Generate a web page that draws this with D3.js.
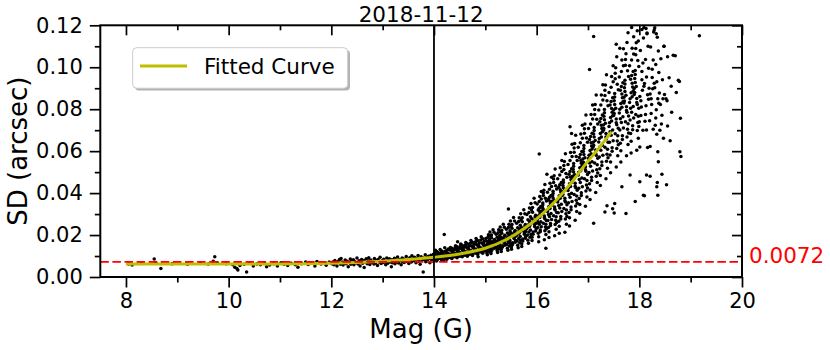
<!DOCTYPE html>
<html><head><meta charset="utf-8">
<script src="https://cdn.jsdelivr.net/npm/d3@7"></script>
<style>body{margin:0;background:#fff}svg{display:block}text{font-family:"DejaVu Sans",sans-serif}</style>
</head><body><svg id="c" width="830" height="350"></svg>
<script>
const title = "2018-11-12";
const xLabel = "Mag (G)";
const yLabel = "SD (arcsec)";
const legendLabel = "Fitted Curve";
const threshold = 0.0072;
const thresholdLabel = "0.0072";
const xMarker = 14;
const xDomain = [7.5, 20];
const yDomain = [0, 0.12];
const xMajorTicks = [8,10,12,14,16,18,20];
const xMinorTicks = [9,11,13,15,17,19];
const yMajorTicks = [0,0.02,0.04,0.06,0.08,0.10,0.12];
const yMinorTicks = [0.01,0.03,0.05,0.07,0.09,0.11];

// fitted curve (mag, sd)
const fittedCurve = [[8,.0062],[10,.0062],[11,.0062],[11.5,.0063],[12,.0065],[12.5,.0069],[13,.0075],[13.5,.0083],[14,.0094],[14.5,.0110],[15,.0137],[15.42,.0180],[15.75,.0230],[16.07,.0292],[16.39,.0368],[16.71,.0460],[16.91,.0525],[17.23,.0620],[17.46,.0692]];

// stars: [mag, sd]
const stars8to12 = [[8.05,.0062],[8.12,.0057],[8.3,.0064],[8.55,.0086],[8.58,.0069],[8.68,.0041],[8.9,.0063],[9.2,.0061],[9.45,.0066],[9.6,.0062],[9.7,.0075],[9.73,.0097],[9.78,.0068],[9.95,.0063],
[10.08,.0058],[10.12,.0047],[10.16,.0041],[10.18,.0033],[10.22,.0055],[10.3,.0061],[10.35,.0024],[10.4,.0066],[10.48,.0052],[10.55,.0062],[10.62,.0058],[10.7,.0064],[10.74,.0049],[10.8,.0057],[10.88,.0063],[10.95,.0052],[11.02,.0068],[11.08,.0061],[11.15,.0055],[11.22,.0066],[11.3,.0058],[11.35,.0047],[11.42,.0063],[11.5,.0071],[11.55,.0059],[11.6,.0066],[11.68,.0052],[11.72,.0074],[11.8,.0062],[11.86,.0068],[11.9,.0056],[11.96,.0072]];

const stars12to14 = [[12.01,.0063],[12.03,.0071],[12.05,.0058],[12.07,.0079],[12.09,.0066],[12.11,.0052],[12.13,.0074],[12.15,.0069],[12.16,.0083],[12.18,.0061],[12.19,.0088],
[12.21,.0072],[12.23,.0057],[12.25,.0066],[12.27,.0081],[12.29,.0063],[12.31,.0075],[12.33,.0049],[12.35,.0069],[12.37,.0086],[12.38,.0061],[12.39,.0077],
[12.41,.0065],[12.43,.0082],[12.44,.0058],[12.46,.0073],[12.48,.0068],[12.5,.0091],[12.52,.0062],[12.54,.0078],[12.56,.0053],[12.57,.0071],[12.59,.0084],
[12.61,.0066],[12.63,.0079],[12.64,.0045],[12.66,.0072],[12.68,.0087],[12.7,.0063],[12.72,.0076],[12.73,.0092],[12.75,.0059],[12.77,.0081],[12.79,.0069],
[12.81,.0074],[12.83,.0062],[12.84,.0088],[12.86,.0067],[12.88,.0079],[12.9,.0055],[12.91,.0083],[12.93,.0071],[12.95,.0094],[12.97,.0064],[12.99,.0077],
[13.01,.0069],[13.02,.0085],[13.04,.0073],[13.06,.0058],[13.08,.0091],[13.1,.0066],[13.11,.0079],[13.13,.0087],[13.15,.0071],[13.17,.0049],[13.18,.0082],[13.19,.0068],
[13.21,.0076],[13.23,.0089],[13.24,.0063],[13.26,.0081],[13.28,.0072],[13.29,.0095],[13.31,.0067],[13.33,.0084],[13.35,.0077],[13.36,.0058],[13.38,.0091],[13.39,.0073],
[13.41,.0086],[13.42,.0069],[13.44,.0078],[13.46,.0098],[13.47,.0074],[13.49,.0083],[13.51,.0064],[13.53,.0092],[13.54,.0079],[13.56,.0071],[13.57,.0101],[13.59,.0085],
[13.61,.0077],[13.62,.0094],[13.64,.0082],[13.65,.0068],[13.67,.0089],[13.69,.0103],[13.7,.0075],[13.72,.0086],[13.73,.0061],[13.75,.0097],[13.77,.0081],[13.79,.0024],[13.8,.0091],
[13.81,.0084],[13.83,.0106],[13.84,.0073],[13.86,.0093],[13.87,.0079],[13.89,.0099],[13.9,.0087],[13.92,.0068],[13.94,.0104],[13.95,.0083],[13.97,.0095],[13.98,.0076],[13.99,.0109]];

const stars14to15 = [[14.01,.0091],[14.02,.0112],[14.03,.0083],[14.04,.0099],[14.05,.0121],[14.05,.0076],[14.06,.0094],[14.07,.0106],[14.08,.0087],[14.08,.0117],[14.09,.0098],[14.03,.0128],[14.06,.0081],[14.09,.0109],[14.02,.0095],
[14.11,.0102],[14.12,.0088],[14.13,.0115],[14.14,.0096],[14.15,.0124],[14.15,.0082],[14.16,.0108],[14.17,.0093],[14.18,.0119],[14.19,.0101],[14.12,.0131],[14.14,.0086],[14.17,.0112],[14.19,.0079],[14.11,.0097],
[14.2,.0203],[14.21,.0105],[14.22,.0091],[14.23,.0118],[14.24,.0099],[14.25,.0128],[14.25,.0085],[14.26,.0111],[14.27,.0097],[14.28,.0134],[14.29,.0104],[14.22,.0122],[14.24,.0089],[14.27,.0115],[14.29,.0093],[14.21,.0139],
[14.31,.0108],[14.32,.0094],[14.33,.0125],[14.34,.0102],[14.35,.0137],[14.35,.0088],[14.36,.0116],[14.37,.0099],[14.38,.0129],[14.39,.0107],[14.32,.0141],[14.34,.0091],[14.37,.0119],[14.39,.0096],[14.31,.0131],
[14.41,.0113],[14.42,.0098],[14.43,.0131],[14.44,.0106],[14.45,.0144],[14.45,.0092],[14.46,.0121],[14.47,.0103],[14.48,.0136],[14.49,.0112],[14.42,.0149],[14.44,.0095],[14.47,.0126],[14.49,.0099],[14.41,.0139],[14.46,.0168],
[14.51,.0117],[14.52,.0101],[14.53,.0136],[14.54,.0111],[14.55,.0151],[14.55,.0096],[14.56,.0127],[14.57,.0108],[14.58,.0142],[14.59,.0118],[14.52,.0157],[14.54,.0099],[14.57,.0132],[14.59,.0104],[14.51,.0146],
[14.61,.0122],[14.62,.0106],[14.63,.0142],[14.64,.0116],[14.65,.0158],[14.65,.0099],[14.66,.0133],[14.67,.0112],[14.68,.0149],[14.69,.0124],[14.62,.0165],[14.64,.0103],[14.67,.0138],[14.69,.0109],[14.61,.0153],
[14.71,.0127],[14.72,.0111],[14.73,.0148],[14.74,.0121],[14.75,.0166],[14.75,.0103],[14.76,.0139],[14.77,.0117],[14.78,.0156],[14.79,.0131],[14.72,.0174],[14.74,.0107],[14.77,.0144],[14.79,.0114],[14.71,.0161],
[14.81,.0133],[14.82,.0115],[14.83,.0155],[14.84,.0127],[14.85,.0174],[14.85,.0108],[14.86,.0146],[14.87,.0122],[14.88,.0163],[14.89,.0137],[14.82,.0183],[14.84,.0112],[14.87,.0151],[14.89,.0119],[14.81,.0168],[14.86,.0097],
[14.91,.0139],[14.92,.0121],[14.93,.0162],[14.94,.0133],[14.95,.0182],[14.95,.0113],[14.96,.0152],[14.97,.0128],[14.98,.0171],[14.99,.0144],[14.92,.0192],[14.94,.0117],[14.97,.0158],[14.99,.0124],[14.91,.0176]];

const stars15to16 = [[15.01,.0146],[15.02,.0128],[15.03,.0170],[15.03,.0114],[15.04,.0156],[15.05,.0190],[15.05,.0136],[15.06,.0152],[15.06,.0202],[15.07,.0122],[15.07,.0162],[15.08,.0142],[15.08,.0178],[15.09,.0130],[15.09,.0214],[15.02,.0150],[15.04,.0106],[15.06,.0166],[15.08,.0158],[15.01,.0184],
[15.16,.0154],[15.13,.0135],[15.18,.0179],[15.11,.0120],[15.15,.0164],[15.12,.0200],[15.19,.0143],[15.14,.0160],[15.17,.0213],[15.13,.0129],[15.1,.0171],[15.16,.0150],[15.12,.0187],[15.18,.0137],[15.15,.0225],[15.19,.0158],[15.11,.0112],[15.17,.0175],[15.14,.0166],[15.1,.0194],
[15.21,.0162],[15.22,.0141],[15.23,.0189],[15.23,.0126],[15.24,.0173],[15.25,.0211],[15.25,.0150],[15.26,.0168],[15.26,.0225],[15.27,.0135],[15.27,.0180],[15.28,.0157],[15.28,.0198],[15.29,.0144],[15.29,.0238],[15.22,.0166],[15.24,.0117],[15.26,.0184],[15.28,.0175],[15.21,.0204],
[15.36,.0170],[15.33,.0149],[15.38,.0199],[15.31,.0132],[15.35,.0182],[15.32,.0223],[15.39,.0158],[15.34,.0177],[15.37,.0237],[15.33,.0142],[15.3,.0190],[15.36,.0165],[15.32,.0209],[15.38,.0151],[15.35,.0252],[15.39,.0175],[15.31,.0122],[15.37,.0194],[15.34,.0185],[15.3,.0216],
[15.41,.0179],[15.42,.0155],[15.43,.0210],[15.43,.0137],[15.44,.0192],[15.45,.0236],[15.45,.0166],[15.46,.0187],[15.46,.0252],[15.47,.0148],[15.47,.0200],[15.48,.0174],[15.48,.0220],[15.49,.0158],[15.49,.0267],[15.42,.0184],[15.44,.0127],[15.46,.0205],[15.48,.0194],[15.41,.0228],[15.45,.0324],
[15.56,.0188],[15.53,.0163],[15.58,.0222],[15.51,.0144],[15.55,.0202],[15.52,.0250],[15.59,.0174],[15.54,.0197],[15.57,.0267],[15.53,.0155],[15.5,.0211],[15.56,.0183],[15.52,.0233],[15.58,.0166],[15.55,.0284],[15.59,.0194],[15.51,.0132],[15.57,.0216],[15.54,.0205],[15.5,.0242],
[15.61,.0199],[15.62,.0172],[15.63,.0235],[15.63,.0151],[15.64,.0214],[15.65,.0265],[15.65,.0184],[15.66,.0208],[15.66,.0283],[15.67,.0163],[15.67,.0223],[15.68,.0193],[15.68,.0247],[15.69,.0175],[15.69,.0301],[15.62,.0205],[15.64,.0139],[15.66,.0229],[15.68,.0217],[15.61,.0256],
[15.76,.0210],[15.73,.0181],[15.78,.0250],[15.71,.0159],[15.75,.0227],[15.72,.0282],[15.79,.0194],[15.74,.0220],[15.77,.0302],[15.73,.0172],[15.7,.0237],[15.76,.0204],[15.72,.0263],[15.78,.0185],[15.75,.0321],[15.79,.0217],[15.71,.0146],[15.77,.0243],[15.74,.0230],[15.7,.0272],
[15.81,.0231],[15.82,.0200],[15.83,.0273],[15.83,.0175],[15.84,.0249],[15.85,.0308],[15.85,.0214],[15.86,.0241],[15.86,.0329],[15.87,.0189],[15.87,.0259],[15.88,.0224],[15.88,.0287],[15.89,.0203],[15.89,.0350],[15.82,.0238],[15.84,.0161],[15.86,.0266],[15.88,.0252],[15.81,.0298],
[15.96,.0249],[15.93,.0215],[15.98,.0294],[15.91,.0189],[15.95,.0267],[15.92,.0331],[15.99,.0230],[15.94,.0260],[15.97,.0354],[15.93,.0204],[15.9,.0279],[15.96,.0241],[15.92,.0309],[15.98,.0219],[15.95,.0376],[15.99,.0256],[15.91,.0174],[15.97,.0286],[15.94,.0271],[15.9,.0320]];

const stars16to17 = [[16.01,.0272],[16.02,.0236],[16.03,.0320],[16.03,.0208],[16.04,.0292],[16.05,.0360],[16.05,.0252],[16.06,.0284],[16.06,.0384],[16.07,.0224],[16.07,.0304],[16.08,.0264],[16.08,.0336],[16.09,.0240],[16.09,.0408],[16.02,.0280],[16.04,.0192],[16.06,.0312],[16.08,.0296],[16.01,.0348],[16.03,.0260],[16.05,.0328],[16.07,.0216],[16.09,.0372],[16.04,.0168],
[16.15,.0291],[16.18,.0252],[16.12,.0344],[16.16,.0221],[16.1,.0313],[16.13,.0388],[16.19,.0269],[16.11,.0304],[16.14,.0414],[16.17,.0238],[16.12,.0326],[16.15,.0282],[16.19,.0362],[16.13,.0256],[16.16,.0441],[16.1,.0300],[16.18,.0203],[16.11,.0335],[16.14,.0318],[16.17,.0375],[16.16,.0278],[16.12,.0353],[16.19,.0230],[16.13,.0401],[16.15,.0177],[16.05,.0586],[16.18,.0137],
[16.21,.0312],[16.22,.0269],[16.23,.0370],[16.23,.0236],[16.24,.0336],[16.25,.0418],[16.25,.0288],[16.26,.0327],[16.26,.0447],[16.27,.0255],[16.27,.0351],[16.28,.0303],[16.28,.0389],[16.29,.0274],[16.29,.0476],[16.22,.0322],[16.24,.0216],[16.26,.0360],[16.28,.0341],[16.21,.0404],[16.23,.0298],[16.25,.0380],[16.27,.0245],[16.29,.0432],[16.24,.0188],[16.2,.0490],
[16.35,.0334],[16.38,.0287],[16.32,.0398],[16.36,.0250],[16.3,.0361],[16.33,.0451],[16.39,.0308],[16.31,.0350],[16.34,.0483],[16.37,.0271],[16.32,.0377],[16.35,.0324],[16.39,.0419],[16.33,.0292],[16.36,.0515],[16.3,.0345],[16.38,.0228],[16.31,.0387],[16.34,.0366],[16.37,.0435],[16.36,.0319],[16.32,.0409],[16.39,.0260],[16.33,.0467],[16.35,.0197],
[16.41,.0358],[16.42,.0306],[16.43,.0428],[16.43,.0266],[16.44,.0387],[16.45,.0486],[16.45,.0329],[16.46,.0376],[16.46,.0521],[16.47,.0289],[16.47,.0405],[16.48,.0347],[16.48,.0451],[16.49,.0312],[16.49,.0556],[16.42,.0370],[16.44,.0242],[16.46,.0416],[16.48,.0393],[16.41,.0469],[16.43,.0341],[16.45,.0440],[16.47,.0277],[16.49,.0503],[16.44,.0208],
[16.55,.0376],[16.58,.0319],[16.52,.0451],[16.56,.0276],[16.5,.0407],[16.53,.0513],[16.59,.0344],[16.51,.0394],[16.54,.0551],[16.57,.0301],[16.52,.0426],[16.55,.0363],[16.59,.0476],[16.53,.0326],[16.56,.0588],[16.5,.0388],[16.58,.0251],[16.51,.0438],[16.54,.0413],[16.57,.0494],[16.56,.0357],[16.52,.0463],[16.59,.0288],[16.53,.0532],[16.55,.0213],
[16.61,.0412],[16.62,.0354],[16.63,.0490],[16.63,.0308],[16.64,.0445],[16.65,.0555],[16.65,.0380],[16.66,.0432],[16.66,.0594],[16.67,.0334],[16.67,.0464],[16.68,.0399],[16.68,.0516],[16.69,.0360],[16.69,.0633],[16.62,.0425],[16.64,.0282],[16.66,.0477],[16.68,.0451],[16.61,.0536],[16.63,.0393],[16.65,.0503],[16.67,.0321],[16.69,.0575],[16.64,.0243],[16.65,.0716],[16.68,.0684],
[16.75,.0447],[16.78,.0386],[16.72,.0528],[16.76,.0339],[16.7,.0480],[16.73,.0595],[16.79,.0413],[16.71,.0467],[16.74,.0636],[16.77,.0366],[16.72,.0501],[16.75,.0433],[16.79,.0555],[16.73,.0393],[16.76,.0676],[16.7,.0460],[16.78,.0312],[16.71,.0514],[16.74,.0487],[16.77,.0575],[16.76,.0426],[16.72,.0541],[16.79,.0352],[16.73,.0615],[16.75,.0271],
[16.81,.0486],[16.82,.0423],[16.83,.0570],[16.83,.0374],[16.84,.0521],[16.85,.0640],[16.85,.0451],[16.86,.0507],[16.86,.0682],[16.87,.0402],[16.87,.0542],[16.88,.0472],[16.88,.0598],[16.89,.0430],[16.89,.0724],[16.82,.0500],[16.84,.0346],[16.86,.0556],[16.88,.0528],[16.81,.0619],[16.83,.0465],[16.85,.0584],[16.87,.0388],[16.89,.0661],[16.84,.0304],
[16.95,.0526],[16.98,.0460],[16.92,.0613],[16.96,.0410],[16.9,.0562],[16.93,.0685],[16.99,.0489],[16.91,.0547],[16.94,.0729],[16.97,.0439],[16.92,.0584],[16.95,.0511],[16.99,.0642],[16.93,.0468],[16.96,.0772],[16.9,.0540],[16.98,.0381],[16.91,.0598],[16.94,.0569],[16.97,.0663],[16.96,.0504],[16.92,.0627],[16.99,.0424],[16.93,.0707],[16.95,.0337]];

const stars17to18 = [[17.01,.0565],[17.02,.0498],[17.03,.0655],[17.03,.0445],[17.04,.0603],[17.05,.0730],[17.05,.0528],[17.06,.0588],[17.06,.0775],[17.07,.0475],[17.07,.0625],[17.08,.0550],[17.08,.0685],[17.09,.0505],[17.09,.0820],[17.02,.0580],[17.04,.0415],[17.06,.0640],[17.08,.0610],[17.01,.0708],[17.03,.0543],[17.05,.0670],[17.07,.0460],[17.09,.0753],[17.04,.0370],[17.03,.0989],[17.11,.1147],[17.11,.0256],
[17.15,.0605],[17.18,.0535],[17.12,.0698],[17.16,.0480],[17.1,.0643],[17.13,.0775],[17.19,.0566],[17.11,.0628],[17.14,.0822],[17.17,.0511],[17.12,.0667],[17.15,.0589],[17.19,.0729],[17.13,.0543],[17.16,.0868],[17.1,.0620],[17.18,.0450],[17.11,.0682],[17.14,.0651],[17.17,.0752],[17.16,.0581],[17.12,.0713],[17.19,.0496],[17.13,.0798],[17.15,.0403],
[17.21,.0644],[17.22,.0572],[17.23,.0740],[17.23,.0516],[17.24,.0684],[17.25,.0820],[17.25,.0604],[17.26,.0668],[17.26,.0868],[17.27,.0548],[17.27,.0708],[17.28,.0628],[17.28,.0772],[17.29,.0580],[17.29,.0916],[17.22,.0660],[17.24,.0484],[17.26,.0724],[17.28,.0692],[17.21,.0796],[17.23,.0620],[17.25,.0756],[17.27,.0532],[17.29,.0844],[17.24,.0436],
[17.35,.0684],[17.38,.0609],[17.32,.0783],[17.36,.0552],[17.3,.0725],[17.33,.0865],[17.39,.0642],[17.31,.0708],[17.34,.0915],[17.37,.0585],[17.32,.0750],[17.35,.0667],[17.39,.0816],[17.33,.0618],[17.36,.0964],[17.3,.0700],[17.38,.0519],[17.31,.0766],[17.34,.0733],[17.37,.0840],[17.36,.0659],[17.32,.0799],[17.39,.0568],[17.33,.0890],[17.35,.0469],[17.33,.0310],[17.37,.0340],
[17.41,.0718],[17.42,.0642],[17.43,.0820],[17.43,.0582],[17.44,.0761],[17.45,.0905],[17.45,.0676],[17.46,.0744],[17.46,.0956],[17.47,.0616],[17.47,.0786],[17.48,.0701],[17.48,.0854],[17.49,.0650],[17.49,.1007],[17.42,.0735],[17.44,.0548],[17.46,.0803],[17.48,.0769],[17.41,.0880],[17.43,.0693],[17.45,.0837],[17.47,.0599],[17.49,.0931],[17.44,.0497],
[17.55,.0753],[17.58,.0674],[17.52,.0858],[17.56,.0613],[17.5,.0796],[17.53,.0945],[17.59,.0709],[17.51,.0779],[17.54,.0998],[17.57,.0648],[17.52,.0823],[17.55,.0735],[17.59,.0893],[17.53,.0683],[17.56,.1050],[17.5,.0770],[17.58,.0578],[17.51,.0840],[17.54,.0805],[17.57,.0919],[17.56,.0726],[17.52,.0875],[17.59,.0630],[17.53,.0971],[17.55,.0525],[17.51,.0305],[17.52,.0350],[17.48,.0325],[17.55,.1110],
[17.61,.0782],[17.62,.0701],[17.63,.0890],[17.63,.0638],[17.64,.0827],[17.65,.0980],[17.65,.0737],[17.66,.0809],[17.66,.1034],[17.67,.0674],[17.67,.0854],[17.68,.0764],[17.68,.0926],[17.69,.0710],[17.69,.1088],[17.62,.0800],[17.64,.0602],[17.66,.0872],[17.68,.0836],[17.61,.0953],[17.63,.0755],[17.65,.0908],[17.67,.0656],[17.69,.1007],[17.64,.0548],[17.62,.1090],
[17.75,.0812],[17.78,.0731],[17.72,.0920],[17.76,.0668],[17.7,.0857],[17.73,.1010],[17.79,.0767],[17.71,.0839],[17.74,.1064],[17.77,.0704],[17.72,.0884],[17.75,.0794],[17.79,.0956],[17.73,.0740],[17.76,.1118],[17.7,.0830],[17.78,.0632],[17.71,.0902],[17.74,.0866],[17.77,.0983],[17.76,.0785],[17.72,.0938],[17.79,.0686],[17.73,.1037],[17.75,.0578],[17.74,.0303],[17.66,.0430],[17.78,.1165],
[17.81,.0832],[17.82,.0748],[17.83,.0943],[17.83,.0684],[17.84,.0878],[17.85,.1035],[17.85,.0785],[17.86,.0859],[17.86,.1091],[17.87,.0721],[17.87,.0906],[17.88,.0813],[17.88,.0980],[17.89,.0758],[17.89,.1146],[17.82,.0850],[17.84,.0647],[17.86,.0924],[17.88,.0887],[17.81,.1007],[17.83,.0804],[17.85,.0961],[17.87,.0702],[17.89,.1063],[17.84,.0591],[17.82,.0486],[17.85,.1190],
[17.95,.0851],[17.98,.0766],[17.92,.0965],[17.96,.0699],[17.9,.0899],[17.93,.1060],[17.99,.0804],[17.91,.0880],[17.94,.1117],[17.97,.0737],[17.92,.0927],[17.95,.0832],[17.99,.1003],[17.93,.0775],[17.96,.1174],[17.9,.0870],[17.98,.0661],[17.91,.0946],[17.94,.0908],[17.97,.1032],[17.96,.0823],[17.92,.0984],[17.99,.0718],[17.93,.1089],[17.95,.0604],[17.92,.0360],[17.98,.1125]];

const stars18plus = [[18.01,.0860],[18.03,.0770],[18.05,.0980],[18.07,.0700],[18.09,.0910],[18.02,.1080],[18.04,.0810],[18.06,.0890],[18.08,.1140],[18,.0740],[18.05,.0940],[18.03,.0840],[18.07,.1020],[18.01,.0620],[18.09,.1190],[18.01,.0454],[18.08,.0390],[18.05,.1180],
[18.16,.0869],[18.12,.0775],[18.18,.0995],[18.14,.0701],[18.1,.0922],[18.17,.1100],[18.13,.0817],[18.19,.0900],[18.15,.1163],[18.11,.0743],[18.14,.0953],[18.18,.0848],[18.12,.1037],[18.16,.0617],[18.13,.1185],[18.1,.0387],[18.14,.0486],[18.15,.1160],
[18.21,.0872],[18.23,.0780],[18.25,.0991],[18.27,.0705],[18.29,.0924],[18.22,.1097],[18.24,.0822],[18.26,.0897],[18.28,.1168],[18.2,.0745],[18.25,.0951],[18.23,.0850],[18.27,.1035],[18.21,.0622],[18.29,.1178],[18.21,.0480],
[18.36,.0850],[18.32,.0758],[18.38,.0975],[18.34,.0681],[18.3,.0902],[18.37,.1077],[18.33,.0797],[18.39,.0877],[18.35,.1143],[18.31,.0723],[18.34,.0931],[18.38,.0828],[18.32,.1013],[18.36,.0597],[18.33,.1160],[18.34,.0430],[18.37,.0550],[18.36,.0390],[18.35,.0450],[18.3,.1188],
[18.41,.0822],[18.43,.0730],[18.45,.0940],[18.47,.0662],[18.49,.0870],[18.42,.1040],[18.44,.0771],[18.46,.0850],[18.48,.1100],[18.4,.0700],[18.44,.0490],
[18.53,.0440],[18.52,.0850],[18.55,.0720],[18.58,.0950],[18.6,.0650],[18.63,.0786],[18.66,.1057],[18.7,.1055],[18.72,.0880],[18.76,.0938],[18.78,.0932],[18.54,.0840],[18.79,.0597],[18.81,.0574],[18.8,.0757],[19.17,.1150],[18.55,.1050],[18.62,.0910],[18.48,.1100]];

const W = 830, H = 350;
const plot = {left: 100.3, right: 742, top: 25.3, bottom: 277};
const x = d3.scaleLinear().domain(xDomain).range([plot.left, plot.right]);
const y = d3.scaleLinear().domain(yDomain).range([plot.bottom, plot.top]);
const svg = d3.select("#c");
svg.append("rect").attr("width", W).attr("height", H).attr("fill", "#fff");
svg.append("defs").append("clipPath").attr("id", "clip").append("rect")
  .attr("x", plot.left).attr("y", plot.top).attr("width", plot.right - plot.left).attr("height", plot.bottom - plot.top);

const stars = [].concat(stars8to12, stars12to14, stars14to15, stars15to16, stars16to17, stars17to18, stars18plus);
const clipG = svg.append("g").attr("clip-path", "url(#clip)");
clipG.selectAll("circle").data(stars).join("circle")
  .attr("cx", d => x(d[0])).attr("cy", d => y(d[1])).attr("r", 1.75).attr("fill", "#000");

const curveColor = "#bfbf00";
clipG.append("path").datum(fittedCurve)
  .attr("d", d3.line().x(d => x(d[0])).y(d => y(d[1])).curve(d3.curveMonotoneX))
  .attr("fill", "none").attr("stroke", curveColor).attr("stroke-width", 3);

clipG.append("line").attr("x1", x(xDomain[0])).attr("x2", x(xDomain[1]))
  .attr("y1", y(threshold)).attr("y2", y(threshold))
  .attr("stroke", "#ff0000").attr("stroke-width", 1.8).attr("stroke-dasharray", "8.5,3.6");

svg.append("line").attr("x1", x(xMarker)).attr("x2", x(xMarker))
  .attr("y1", plot.top).attr("y2", plot.bottom).attr("stroke", "#000").attr("stroke-width", 1.8);

function styleAxis(g) {
  g.select(".domain").remove();
  g.selectAll(".tick line").attr("stroke", "#000").attr("stroke-width", 1.7);
  g.selectAll(".tick text").attr("font-size", 21).attr("fill", "#000").attr("font-family", "DejaVu Sans");
}
svg.append("g").attr("transform", `translate(0,${plot.bottom})`)
  .call(d3.axisBottom(x).tickValues(xMajorTicks).tickSize(10.5).tickPadding(5.5).tickFormat(d3.format("d"))).call(styleAxis);
svg.append("g").attr("transform", `translate(0,${plot.bottom})`)
  .call(d3.axisBottom(x).tickValues(xMinorTicks).tickSize(5.5).tickFormat("")).call(styleAxis);
svg.append("g").attr("transform", `translate(0,${plot.top})`)
  .call(d3.axisTop(x).tickValues(xMajorTicks).tickSize(-10).tickFormat("")).call(styleAxis);
svg.append("g").attr("transform", `translate(0,${plot.top})`)
  .call(d3.axisTop(x).tickValues(xMinorTicks).tickSize(-5).tickFormat("")).call(styleAxis);
svg.append("g").attr("transform", `translate(${plot.left},0)`)
  .call(d3.axisLeft(y).tickValues(yMajorTicks).tickSize(10.5).tickPadding(7).tickFormat(d3.format(".2f"))).call(styleAxis);
svg.append("g").attr("transform", `translate(${plot.left},0)`)
  .call(d3.axisLeft(y).tickValues(yMinorTicks).tickSize(5.5).tickFormat("")).call(styleAxis);
svg.append("g").attr("transform", `translate(${plot.right},0)`)
  .call(d3.axisRight(y).tickValues(yMajorTicks).tickSize(-10).tickFormat("")).call(styleAxis);
svg.append("g").attr("transform", `translate(${plot.right},0)`)
  .call(d3.axisRight(y).tickValues(yMinorTicks).tickSize(-5).tickFormat("")).call(styleAxis);

svg.append("rect").attr("x", plot.left).attr("y", plot.top)
  .attr("width", plot.right - plot.left).attr("height", plot.bottom - plot.top)
  .attr("fill", "none").attr("stroke", "#000").attr("stroke-width", 2);

svg.append("text").attr("x", (plot.left + plot.right) / 2).attr("y", 21.5)
  .attr("text-anchor", "middle").attr("font-size", 21.5).text(title);
svg.append("text").attr("x", (plot.left + plot.right) / 2).attr("y", 338)
  .attr("text-anchor", "middle").attr("font-size", 26).text(xLabel);
svg.append("text").attr("transform", `translate(26.5,${(plot.top + plot.bottom) / 2}) rotate(-90)`)
  .attr("text-anchor", "middle").attr("font-size", 26).text(yLabel);
svg.append("text").attr("x", 749).attr("y", y(threshold) + 1.5)
  .attr("font-size", 21.5).attr("fill", "#ff0000").text(thresholdLabel);

const lg = svg.append("g");
lg.append("rect").attr("x", 135).attr("y", 50).attr("width", 215).attr("height", 40.5).attr("rx", 4)
  .attr("fill", "#000").attr("opacity", 0.3);
lg.append("rect").attr("x", 132.7).attr("y", 47.7).attr("width", 215).attr("height", 40.5).attr("rx", 4)
  .attr("fill", "#fff").attr("stroke", "#cccccc").attr("stroke-width", 1);
lg.append("line").attr("x1", 140).attr("x2", 187).attr("y1", 66).attr("y2", 66)
  .attr("stroke", curveColor).attr("stroke-width", 3);
lg.append("text").attr("x", 204).attr("y", 74).attr("font-size", 21.5).text(legendLabel);
</script></body></html>
